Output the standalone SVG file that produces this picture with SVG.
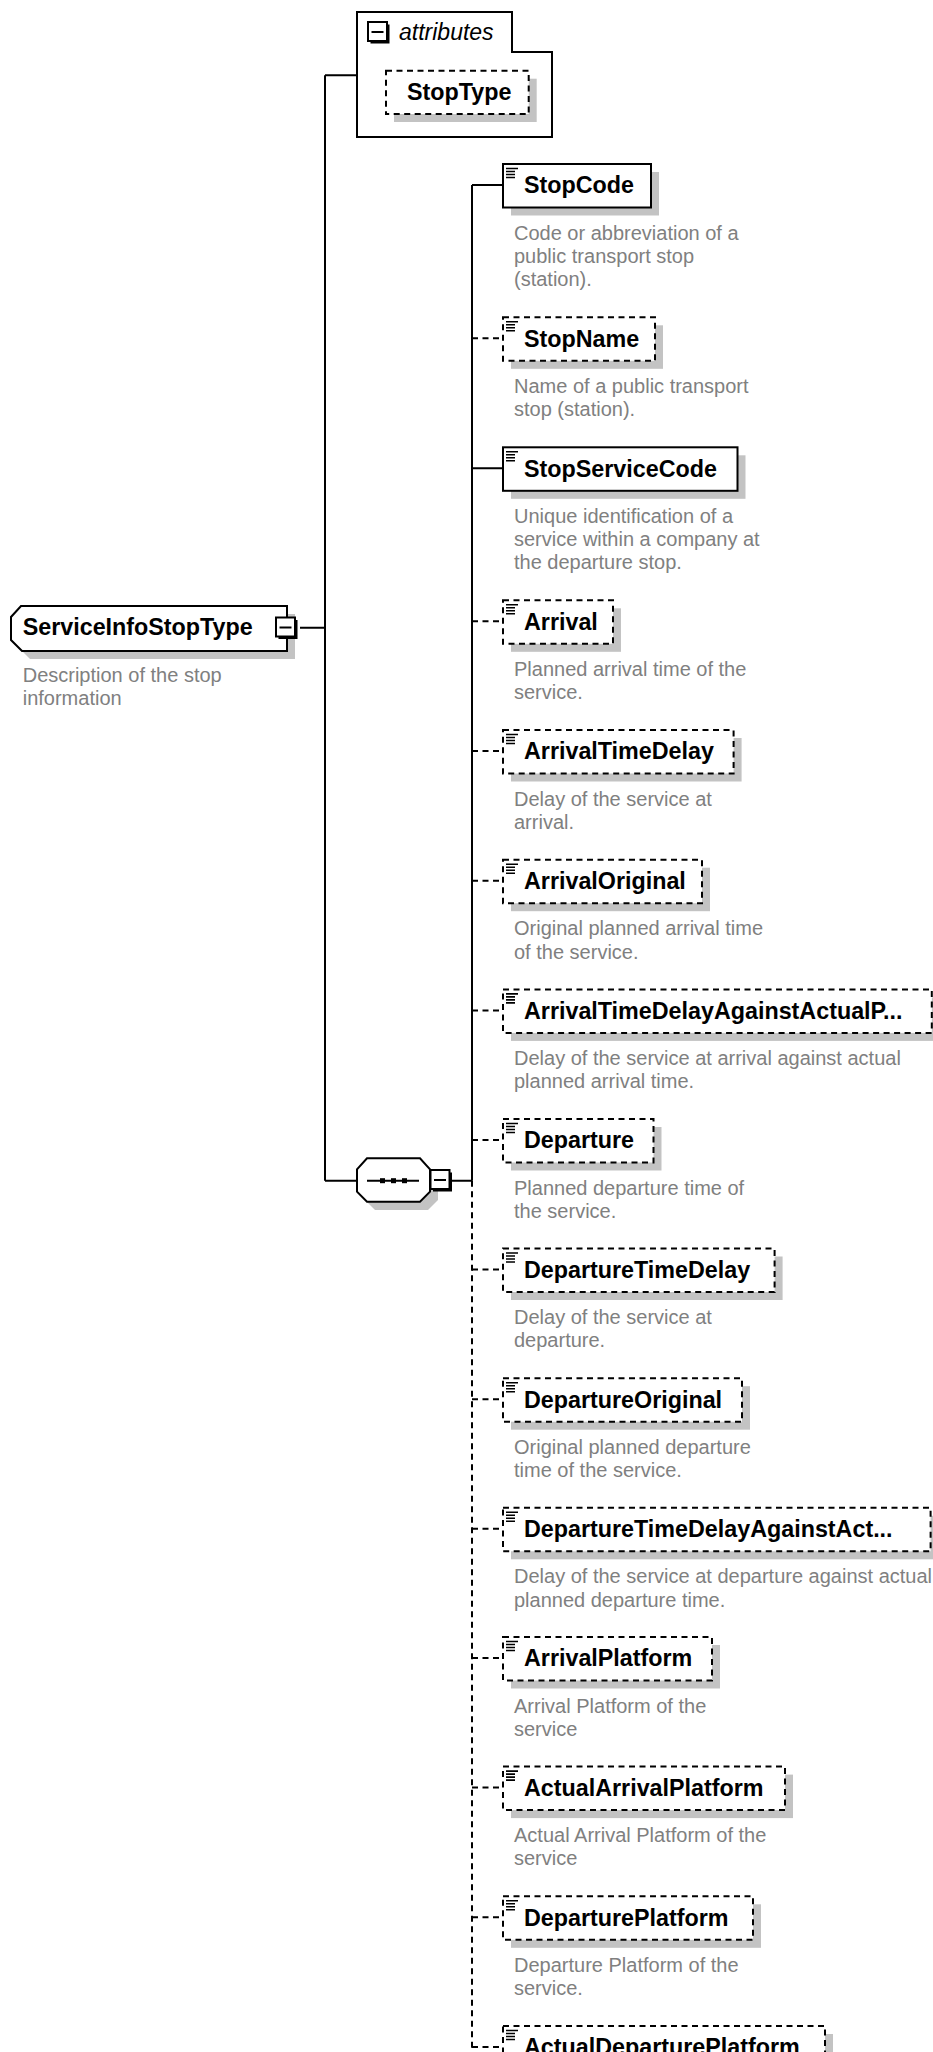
<svg xmlns="http://www.w3.org/2000/svg" xmlns:xlink="http://www.w3.org/1999/xlink" width="933" height="2052" viewBox="0 0 933 2052">
<style>
.box{fill:#fff;stroke:#000;stroke-width:2}
.dbox{fill:#fff;stroke:#000;stroke-width:2;stroke-dasharray:6 4.5}
.sh{fill:#c3c3c3}
.lbl{font-family:"Liberation Sans",Arial,sans-serif;font-weight:bold;font-size:23.3px;fill:#000}
.desc{font-family:"Liberation Sans",Arial,sans-serif;font-size:20px;fill:#808080}
.conn{fill:none;stroke:#000;stroke-width:2}
.dconn{fill:none;stroke:#000;stroke-width:2;stroke-dasharray:6 4.5}
.ic{fill:none;stroke:#000;stroke-width:1.6}
</style>
<defs>
<path id="ic" class="ic" d="M506,4.5 H518 M506,7.5 H515 M506,10.5 H515 M506,13.5 H515"/>
<g id="minus">
<rect x="2.5" y="2.5" width="19" height="19" fill="#000"/>
<rect x="0" y="0" width="19" height="19" fill="#fff" stroke="#000" stroke-width="2"/>
<path d="M3.5,10 H15.5" stroke="#000" stroke-width="2"/>
</g>
</defs>
<rect width="933" height="2052" fill="#fff"/>
<g id="connectors">
<path class="conn" d="M325,75.3 H357 M325,75.3 V1180.7 M300,627.7 H325 M325,1180.7 H357 M452,1180.7 H472 M472,185 V1180.7"/>
<path class="dconn" d="M472,1180.7 V2052"/>
<path class="conn" d="M472,185 H503 M472,468.3 H503"/>
<path class="dconn" d="M472,338.3 H503 M472,621.3 H503 M472,751 H503 M472,880.7 H503 M472,1010.4 H503 M472,1140 H503 M472,1269.5 H503 M472,1399.2 H503 M472,1528.8 H503 M472,1658 H503 M472,1787.6 H503 M472,1917.3 H503 M472,2047 H503"/>
</g>
<g id="attributes">
<path class="box" d="M357,12 H512 V52 H552 V137 H357 Z"/>
<use xlink:href="#minus" x="368" y="22"/>
<text x="399" y="40" font-family="Liberation Sans,Arial,sans-serif" font-style="italic" font-size="23px" fill="#000">attributes</text>
</g>
<g id="StopType">
<rect class="sh" x="394" y="78.7" width="142.7" height="43.3"/>
<rect class="dbox" x="386" y="70.7" width="142.7" height="43.3"/>
<text class="lbl" x="407" y="100">StopType</text>
</g>
<g id="ServiceInfoStopType">
<path class="sh" d="M29,614 H295 V659 H30 L19,648 V625 Z"/>
<path class="box" d="M21,606 H287 V651 H22 L11,640 V617 Z"/>
<text class="lbl" x="22.7" y="635">ServiceInfoStopType</text>
<use xlink:href="#minus" x="276" y="617.5"/>
<text class="desc" x="22.7" y="682">Description of the stop</text>
<text class="desc" x="22.7" y="705">information</text>
</g>
<g id="sequence">
<path class="sh" d="M375,1166 H428 L438,1177 V1200 L428,1210 H375 L365,1200 V1177 Z"/>
<path class="box" d="M367,1158.3 H420 L430,1169.3 V1191.7 L420,1201.7 H367 L357,1191.7 V1169.3 Z"/>
<path d="M367,1180.7 H419" stroke="#000" stroke-width="2"/>
<rect x="380" y="1178.2" width="5" height="5" fill="#000"/>
<rect x="391" y="1178.2" width="5" height="5" fill="#000"/>
<rect x="402" y="1178.2" width="5" height="5" fill="#000"/>
<use xlink:href="#minus" x="430.5" y="1170"/>
</g>
<g id="StopCode">
<rect class="sh" x="511" y="172" width="148" height="43.5"/>
<rect class="box" x="503" y="164" width="148" height="43.5"/>
<use xlink:href="#ic" y="164"/>
<text class="lbl" x="524" y="193.3">StopCode</text>
<text class="desc" x="514" y="239.5">Code or abbreviation of a</text>
<text class="desc" x="514" y="262.8">public transport stop</text>
<text class="desc" x="514" y="286.1">(station).</text>
</g>
<g id="StopName">
<rect class="sh" x="511" y="325.3" width="152" height="43.5"/>
<rect class="dbox" x="503" y="317.3" width="152" height="43.5"/>
<use xlink:href="#ic" y="317.3"/>
<text class="lbl" x="524" y="346.6">StopName</text>
<text class="desc" x="514" y="392.8">Name of a public transport</text>
<text class="desc" x="514" y="416.1">stop (station).</text>
</g>
<g id="StopServiceCode">
<rect class="sh" x="511" y="455.3" width="234.5" height="43.5"/>
<rect class="box" x="503" y="447.3" width="234.5" height="43.5"/>
<use xlink:href="#ic" y="447.3"/>
<text class="lbl" x="524" y="476.6">StopServiceCode</text>
<text class="desc" x="514" y="522.8">Unique identification of a</text>
<text class="desc" x="514" y="546.1">service within a company at</text>
<text class="desc" x="514" y="569.4">the departure stop.</text>
</g>
<g id="Arrival">
<rect class="sh" x="511" y="608.3" width="110" height="43.5"/>
<rect class="dbox" x="503" y="600.3" width="110" height="43.5"/>
<use xlink:href="#ic" y="600.3"/>
<text class="lbl" x="524" y="629.6">Arrival</text>
<text class="desc" x="514" y="675.8">Planned arrival time of the</text>
<text class="desc" x="514" y="699.1">service.</text>
</g>
<g id="ArrivalTimeDelay">
<rect class="sh" x="511" y="738" width="230.6" height="43.5"/>
<rect class="dbox" x="503" y="730" width="230.6" height="43.5"/>
<use xlink:href="#ic" y="730"/>
<text class="lbl" x="524" y="759.3">ArrivalTimeDelay</text>
<text class="desc" x="514" y="805.5">Delay of the service at</text>
<text class="desc" x="514" y="828.8">arrival.</text>
</g>
<g id="ArrivalOriginal">
<rect class="sh" x="511" y="867.7" width="199" height="43.5"/>
<rect class="dbox" x="503" y="859.7" width="199" height="43.5"/>
<use xlink:href="#ic" y="859.7"/>
<text class="lbl" x="524" y="889">ArrivalOriginal</text>
<text class="desc" x="514" y="935.2">Original planned arrival time</text>
<text class="desc" x="514" y="958.5">of the service.</text>
</g>
<g id="ArrivalTimeDelayAgainstActualPlannedArrival">
<rect class="sh" x="511" y="997.4" width="428.8" height="43.5"/>
<rect class="dbox" x="503" y="989.4" width="428.8" height="43.5"/>
<use xlink:href="#ic" y="989.4"/>
<text class="lbl" x="524" y="1018.7">ArrivalTimeDelayAgainstActualP...</text>
<text class="desc" x="514" y="1064.9">Delay of the service at arrival against actual</text>
<text class="desc" x="514" y="1088.2">planned arrival time.</text>
</g>
<g id="Departure">
<rect class="sh" x="511" y="1127" width="150.5" height="43.5"/>
<rect class="dbox" x="503" y="1119" width="150.5" height="43.5"/>
<use xlink:href="#ic" y="1119"/>
<text class="lbl" x="524" y="1148.3">Departure</text>
<text class="desc" x="514" y="1194.5">Planned departure time of</text>
<text class="desc" x="514" y="1217.8">the service.</text>
</g>
<g id="DepartureTimeDelay">
<rect class="sh" x="511" y="1256.5" width="271.6" height="43.5"/>
<rect class="dbox" x="503" y="1248.5" width="271.6" height="43.5"/>
<use xlink:href="#ic" y="1248.5"/>
<text class="lbl" x="524" y="1277.8">DepartureTimeDelay</text>
<text class="desc" x="514" y="1324">Delay of the service at</text>
<text class="desc" x="514" y="1347.3">departure.</text>
</g>
<g id="DepartureOriginal">
<rect class="sh" x="511" y="1386.2" width="239" height="43.5"/>
<rect class="dbox" x="503" y="1378.2" width="239" height="43.5"/>
<use xlink:href="#ic" y="1378.2"/>
<text class="lbl" x="524" y="1407.5">DepartureOriginal</text>
<text class="desc" x="514" y="1453.7">Original planned departure</text>
<text class="desc" x="514" y="1477">time of the service.</text>
</g>
<g id="DepartureTimeDelayAgainstActualPlannedDeparture">
<rect class="sh" x="511" y="1515.8" width="427.6" height="43.5"/>
<rect class="dbox" x="503" y="1507.8" width="427.6" height="43.5"/>
<use xlink:href="#ic" y="1507.8"/>
<text class="lbl" x="524" y="1537.1">DepartureTimeDelayAgainstAct...</text>
<text class="desc" x="514" y="1583.3">Delay of the service at departure against actual</text>
<text class="desc" x="514" y="1606.6">planned departure time.</text>
</g>
<g id="ArrivalPlatform">
<rect class="sh" x="511" y="1645" width="209" height="43.5"/>
<rect class="dbox" x="503" y="1637" width="209" height="43.5"/>
<use xlink:href="#ic" y="1637"/>
<text class="lbl" x="524" y="1666.3">ArrivalPlatform</text>
<text class="desc" x="514" y="1712.5">Arrival Platform of the</text>
<text class="desc" x="514" y="1735.8">service</text>
</g>
<g id="ActualArrivalPlatform">
<rect class="sh" x="511" y="1774.6" width="282" height="43.5"/>
<rect class="dbox" x="503" y="1766.6" width="282" height="43.5"/>
<use xlink:href="#ic" y="1766.6"/>
<text class="lbl" x="524" y="1795.9">ActualArrivalPlatform</text>
<text class="desc" x="514" y="1842.1">Actual Arrival Platform of the</text>
<text class="desc" x="514" y="1865.4">service</text>
</g>
<g id="DeparturePlatform">
<rect class="sh" x="511" y="1904.3" width="250" height="43.5"/>
<rect class="dbox" x="503" y="1896.3" width="250" height="43.5"/>
<use xlink:href="#ic" y="1896.3"/>
<text class="lbl" x="524" y="1925.6">DeparturePlatform</text>
<text class="desc" x="514" y="1971.8">Departure Platform of the</text>
<text class="desc" x="514" y="1995.1">service.</text>
</g>
<g id="ActualDeparturePlatform">
<rect class="sh" x="511" y="2034" width="322" height="43.5"/>
<rect class="dbox" x="503" y="2026" width="322" height="43.5"/>
<use xlink:href="#ic" y="2026"/>
<text class="lbl" x="524" y="2055.3">ActualDeparturePlatform</text>
</g>
</svg>
